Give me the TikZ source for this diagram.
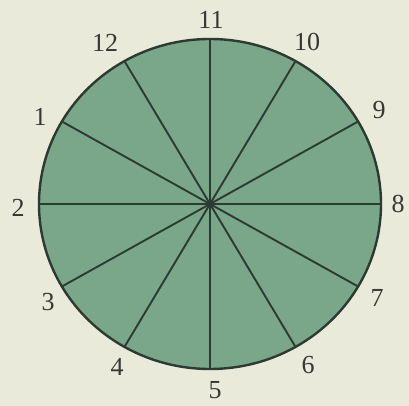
\documentclass[tikz,border=0pt]{standalone}
\usepackage{fontspec}
\setmainfont{Liberation Serif}
\usetikzlibrary{calc}
\definecolor{bg}{RGB}{234,234,218}
\definecolor{disc}{RGB}{122,167,138}
\definecolor{ink}{RGB}{45,58,50}
\definecolor{txt}{RGB}{55,55,55}
\begin{document}
\begin{tikzpicture}[x=1pt,y=1pt,
  spoke/.style={draw=ink,line width=1.9pt},
  lbl/.style={text=txt,font=\fontsize{26}{26}\selectfont,inner sep=0pt}]
\fill[bg] (0,0) rectangle (409,406);
\useasboundingbox (0,0) rectangle (409,406);
\coordinate (c) at (210,202);
\fill[disc,draw=ink,line width=2.4pt] (c) ellipse [x radius=171, y radius=165];
\foreach \n/\a in {8/0,9/30,10/60,11/90,12/120,1/150,2/180,3/210,4/240,5/270,6/300,7/330}{
  \coordinate (e\n) at ($(c)+({171*cos(\a)},{165*sin(\a)})$);
  \draw[spoke] (c) -- (e\n);
}
\fill[ink] (c) circle (3.5);
\node[lbl] (l11) at (211,386) {11};
\node[lbl] (l10) at (307,364) {10};
\node[lbl] (l9) at (379,296) {9};
\node[lbl] (l8) at (398,202) {8};
\node[lbl] (l7) at (377,108) {7};
\node[lbl] (l6) at (308,41) {6};
\node[lbl] (l5) at (215,16) {5};
\node[lbl] (l4) at (117,39) {4};
\node[lbl] (l3) at (48,104) {3};
\node[lbl] (l2) at (18,198) {2};
\node[lbl] (l1) at (40,289) {1};
\node[lbl] (l12) at (105,363) {12};
\end{tikzpicture}
\end{document}
